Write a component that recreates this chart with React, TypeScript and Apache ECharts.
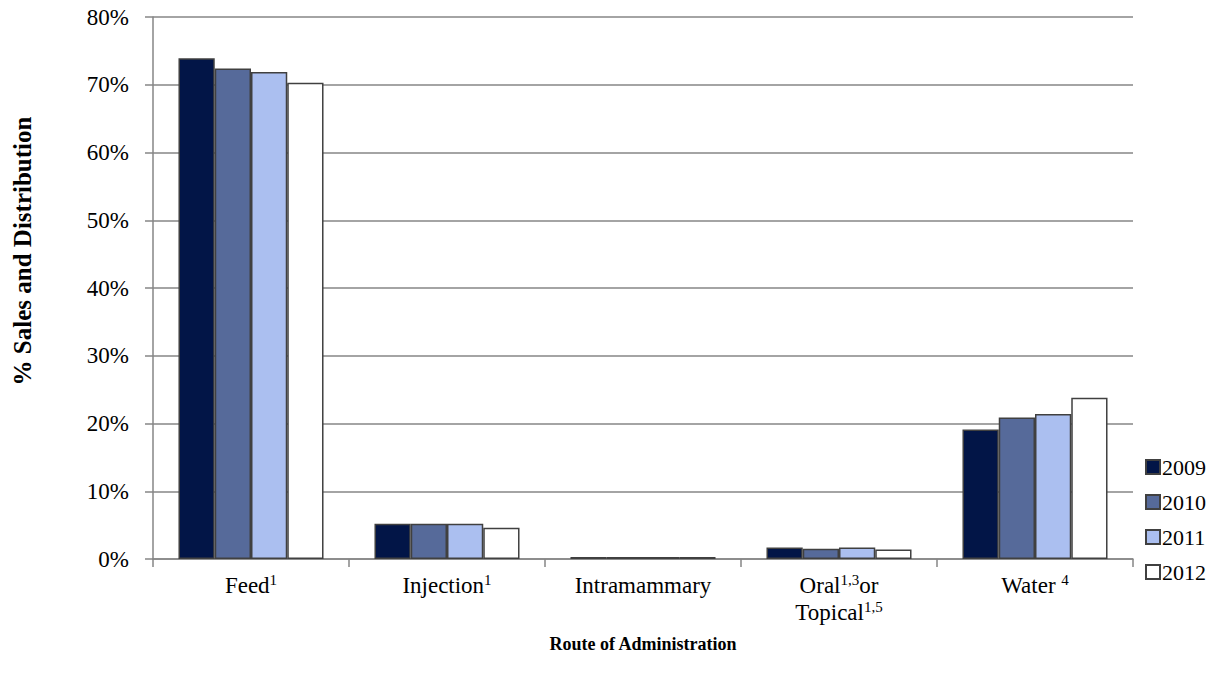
import React, { useEffect, useRef } from "react";
import * as echarts from "echarts";

const categories = ["Feed{s|1}", "Injection{s|1}", "Intramammary", "Oral{s|1,3}or\nTopical{s|1,5}", "Water {s|4}"];
const years = ["2009", "2010", "2011", "2012"];
const v2009 = [73.9, 5.2, 0.3, 1.7, 19.1];
const v2010 = [72.4, 5.2, 0.3, 1.5, 20.9];
const v2011 = [71.9, 5.2, 0.3, 1.7, 21.4];
const v2012 = [70.3, 4.6, 0.3, 1.4, 23.8];
const yTicks = [0, 10, 20, 30, 40, 50, 60, 70, 80];
const colors = ["#021547", "#566a9a", "#abbff0", "#ffffff"];
const yTitle = "% Sales and Distribution";
const xTitle = "Route of Administration";

export default function App() {
  const ref = useRef<HTMLDivElement>(null);
  useEffect(() => {
    const chart = echarts.init(ref.current!, null, { renderer: "svg" });
    const font = "'Liberation Serif', 'Times New Roman', serif";
    const values = [v2009, v2010, v2011, v2012];
    chart.setOption({
      animation: false,
      textStyle: { fontFamily: font },
      grid: { left: 153, right: 87, top: 17, bottom: 124 },
      legend: {
        orient: "vertical",
        left: 1140,
        top: 451,
        itemWidth: 14,
        itemHeight: 14,
        itemGap: 13,
        icon: "rect",
        textStyle: { fontFamily: font, fontSize: 22, color: "#000", padding: [0, 0, 0, -3] },
        data: years,
      },
      graphic: [
        {
          type: "text",
          x: 22,
          y: 251,
          rotation: Math.PI / 2,
          style: {
            text: yTitle,
            font: "bold 25px 'Liberation Serif', 'Times New Roman', serif",
            fill: "#000",
            align: "center",
            verticalAlign: "middle",
          },
        },
      ],
      xAxis: {
        type: "category",
        data: categories,
        name: xTitle,
        nameLocation: "middle",
        nameGap: 76,
        nameTextStyle: { fontFamily: font, fontSize: 18, fontWeight: "bold", color: "#000" },
        axisLine: { lineStyle: { color: "#868686", width: 1.5 } },
        axisTick: { show: true, length: 8, lineStyle: { color: "#868686", width: 1.5 } },
        axisLabel: {
          fontFamily: font,
          fontSize: 23,
          color: "#000",
          margin: 13,
          lineHeight: 27,
          rich: { s: { fontFamily: font, fontSize: 15, verticalAlign: "top", padding: [0, 0, 10, 0], color: "#000" } },
        },
      },
      yAxis: {
        type: "value",
        min: 0,
        max: 80,
        interval: 10,
        axisLine: { show: true, lineStyle: { color: "#868686", width: 1.5 } },
        axisTick: { show: true, length: 8, lineStyle: { color: "#868686", width: 1.5 } },
        axisLabel: {
          fontFamily: font,
          fontSize: 23,
          color: "#000",
          margin: 24,
          formatter: (v: number) => (yTicks.includes(v) ? v + "%" : ""),
        },
        splitLine: { lineStyle: { color: "#868686", width: 1.5 } },
      },
      series: years.map((y, i) => ({
        name: y,
        type: "bar",
        data: values[i],
        barGap: "0%",
        barCategoryGap: "26%",
        itemStyle: { color: colors[i], borderColor: "#404040", borderWidth: 1.5 },
      })),
    });
    return () => chart.dispose();
  }, []);
  return <div ref={ref} style={{ width: 1220, height: 683, position: "absolute", left: 0, top: 0 }} />;
}
